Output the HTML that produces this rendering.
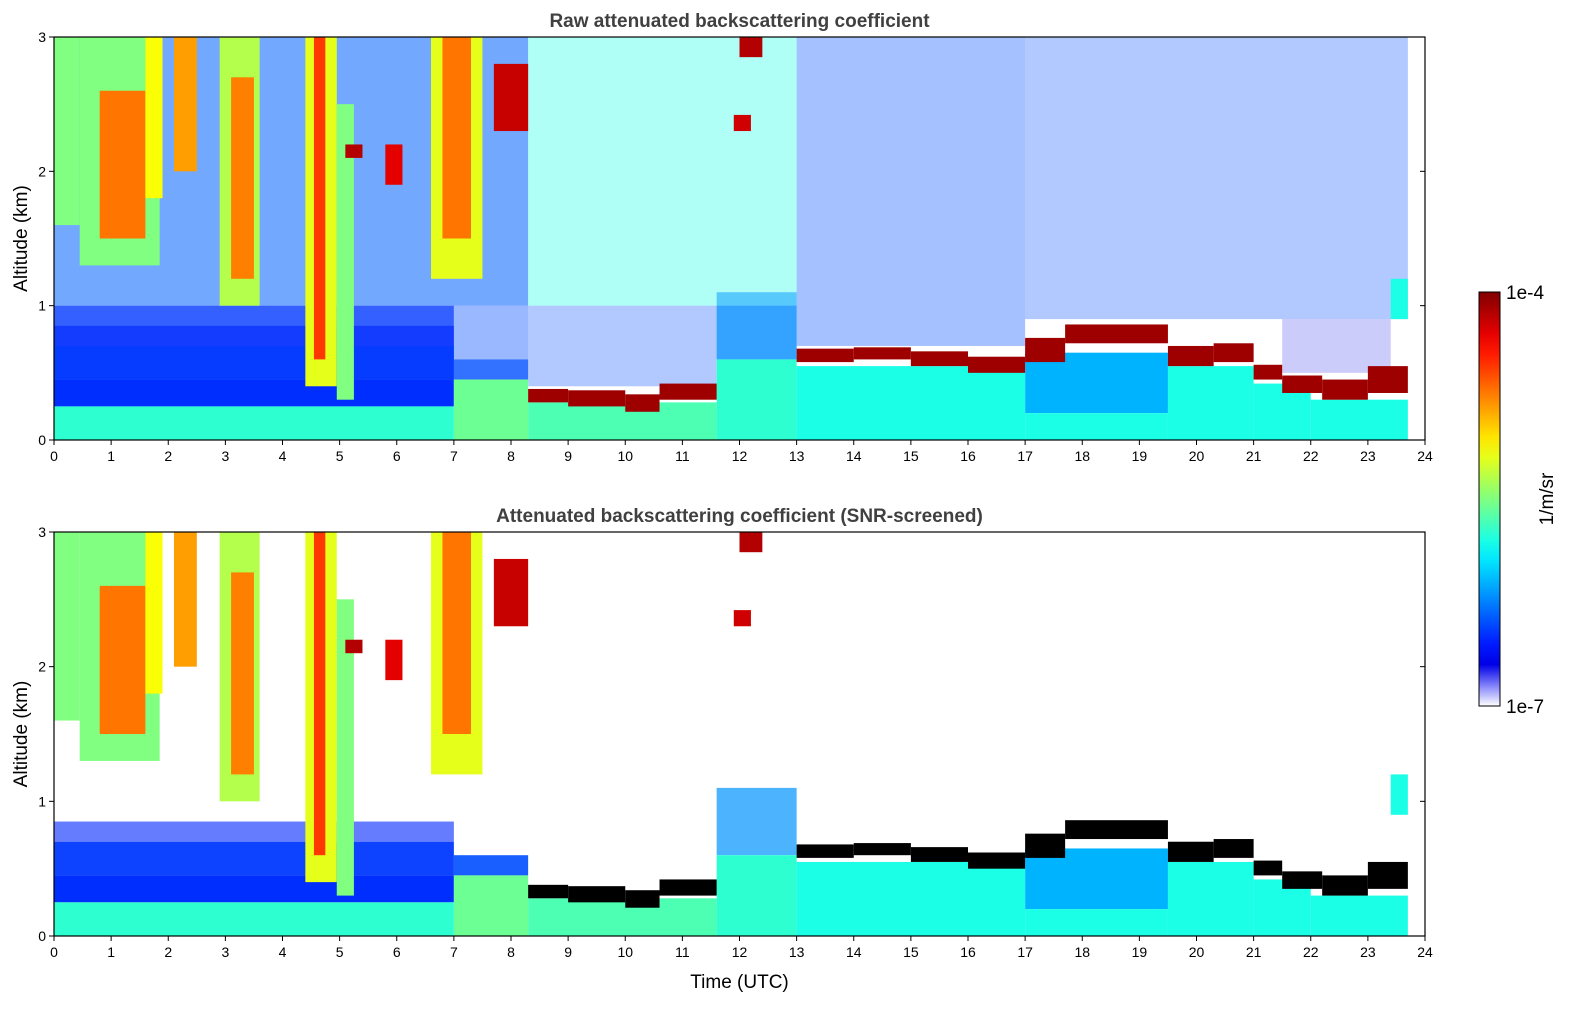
<!DOCTYPE html>
<html><head><meta charset="utf-8">
<style>
html,body{margin:0;padding:0;background:#fff;width:1595px;height:1020px;overflow:hidden;}
svg{display:block;position:absolute;left:0;top:0;font-family:"Liberation Sans","DejaVu Sans",sans-serif;}
</style></head>
<body>
<svg id="chart" width="1595" height="1020" viewBox="0 0 1595 1020" xmlns="http://www.w3.org/2000/svg">
<defs><linearGradient id="cbgrad" x1="0" y1="1" x2="0" y2="0"></linearGradient></defs>
</svg>
<script>
// ---- data (time h, altitude km, normalized log backscatter 0=1e-7 .. 1=1e-4; -1 = black/saturated) ----
const xTicks = [0,1,2,3,4,5,6,7,8,9,10,11,12,13,14,15,16,17,18,19,20,21,22,23,24];
const yTicks = [0,1,2,3];
const cbLabels = ["1e-4","1e-7"];
// noisy background (raw panel only): [t0,t1,z0,z1,value,alpha]
const rawBackground = [
 [0,8.3,1,3,0.22,0.55],[0,7,0.45,1,0.18,0.8],[7,8.3,0.6,1,0.2,0.4],[8.3,13,1,3,0.4,0.35],[8.3,11.6,0.4,1,0.2,0.3],
 [11.6,13,0.6,1,0.25,0.6],[13,17,0.7,3,0.2,0.35],[17,23.7,0.9,3,0.2,0.3],[21.5,23.4,0.5,0.9,0.1,0.2]
];
// aerosol layer: [t0,t1,z0,z1,value,alphaRaw,alphaScreened]
const aerosolLayer = [
 [0,7,0.25,0.45,0.17,1,1],[0,7,0.45,0.7,0.18,0.9,0.95],[0,7,0.7,0.85,0.16,0.6,0.6],
 [7,8.3,0.45,0.6,0.2,0.8,0.9],[11.6,13,0.6,1.1,0.27,0.5,0.7],[17,19.5,0.2,0.65,0.3,1,1]
];
// surface layer: [t0,t1,z0,z1,value]
const surfaceLayer = [
 [0,7,0,0.25,0.42],[7,8.3,0,0.45,0.48],[8.3,11.6,0,0.28,0.45],[11.6,13,0,0.6,0.42],
 [13,17,0,0.55,0.4],[17,19.5,0,0.2,0.4],[19.5,21,0,0.55,0.4],[21,22,0,0.42,0.4],[22,23.7,0,0.3,0.4]
];
// boundary-layer cloud: [t0,t1,z0,z1]
const lowCloud = [
 [8.3,9,0.28,0.38],[9,10,0.25,0.37],[10,10.6,0.21,0.34],[10.6,11.6,0.3,0.42],[13,14,0.58,0.68],
 [14,15,0.6,0.69],[15,16,0.55,0.66],[16,17,0.5,0.62],[17,17.7,0.58,0.76],[17.7,19.5,0.72,0.86],
 [19.5,20.3,0.55,0.7],[20.3,21,0.58,0.72],[21,21.5,0.45,0.56],[21.5,22.2,0.35,0.48],
 [22.2,23,0.3,0.45],[23,23.7,0.35,0.55]
];
// upper clouds: [t0,t1,z0,z1,value]
const upperCloud = [
 [0,0.45,1.6,3,0.5],[0.45,1.85,1.3,3,0.5],[0.8,1.6,1.5,2.6,0.76],[1.6,1.9,1.8,3,0.62],
 [2.1,2.5,2,3,0.72],[2.9,3.6,1,3,0.55],[3.1,3.5,1.2,2.7,0.75],[4.4,4.95,0.4,3,0.6],
 [4.55,4.75,0.6,3,0.82],[4.95,5.25,0.3,2.5,0.5],[5.8,6.1,1.9,2.2,0.9],[5.1,5.4,2.1,2.2,0.95],
 [6.6,7.5,1.2,3,0.6],[6.8,7.3,1.5,3,0.76],[7.7,8.3,2.3,2.8,0.93],[12,12.4,2.85,3,0.95],
 [11.9,12.2,2.3,2.42,0.92],[23.4,23.7,0.9,1.2,0.4]
];
const panels = [
 {name:"raw", title:"Raw attenuated backscattering coefficient", top:37, bottom:440},
 {name:"screened", title:"Attenuated backscattering coefficient (SNR-screened)", top:532, bottom:936}
];
// ---- rendering ----
const NS="http://www.w3.org/2000/svg";
const svg=document.getElementById('chart');
const X0=54,X1=1425;
function jet(v){
 if(v<0) return "#000";
 const c=t=>Math.max(0,Math.min(1,t));
 let r=c(1.5-Math.abs(4*v-3)),g=c(1.5-Math.abs(4*v-2)),b=c(1.5-Math.abs(4*v-1));
 if(v<0.1){const f=v/0.1;r=1-f*(1-r);g=1-f*(1-g);b=1-f*(1-b)*0.1;}
 return `rgb(${Math.round(r*255)},${Math.round(g*255)},${Math.round(b*255)})`;
}
function el(tag,attrs,parent){const e=document.createElementNS(NS,tag);for(const k in attrs)e.setAttribute(k,attrs[k]);(parent||svg).appendChild(e);return e;}
function sx(t){return X0+(t/24)*(X1-X0);}
panels.forEach((p,pi)=>{
 const sy=z=>p.bottom-(z/3)*(p.bottom-p.top);
 const g=el('g',{});
 
 
 const rect=(d,v,a,nm)=>{const r=el('rect',{x:sx(d[0]),y:sy(d[3]),width:sx(d[1])-sx(d[0]),height:sy(d[2])-sy(d[3]),fill:jet(v),'fill-opacity':a},g);
  
  };
 if(pi===0) rawBackground.forEach(d=>rect(d,d[4],d[5],'noise-region'));
 aerosolLayer.forEach(d=>rect(d,d[4],pi===0?d[5]:d[6],'aerosol-layer'));
 surfaceLayer.forEach(d=>rect(d,d[4],1,'surface-layer'));
 upperCloud.forEach(d=>rect(d,d[4],1,'upper-cloud'));
 lowCloud.forEach(d=>rect(d,pi===0?0.97:-1,1,'low-cloud'));
 const fr=el('rect',{x:X0,y:p.top,width:X1-X0,height:p.bottom-p.top,fill:'none',stroke:'#000','stroke-width':1.2});
 
 
 const t=el('text',{x:(X0+X1)/2,y:p.top-10,'text-anchor':'middle','font-size':19,'font-weight':'bold',fill:'#404040'});
 t.textContent=p.title;
 
 
 xTicks.forEach(v=>{
  el('line',{x1:sx(v),x2:sx(v),y1:p.bottom,y2:p.bottom+5,stroke:'#000'});
  const l=el('text',{x:sx(v),y:p.bottom+21,'text-anchor':'middle','font-size':14});
  l.textContent=v;
  
  
 });
 yTicks.forEach(v=>{
  el('line',{x1:X0-5,x2:X0,y1:sy(v),y2:sy(v),stroke:'#000'});
  el('line',{x1:X1,x2:X1-5,y1:sy(v),y2:sy(v),stroke:'#000'});
  const l=el('text',{x:X0-8,y:sy(v)+5,'text-anchor':'end','font-size':14});
  l.textContent=v;
  
  
 });
 const yl=el('text',{x:0,y:0,transform:`translate(27,${(p.top+p.bottom)/2}) rotate(-90)`,'text-anchor':'middle','font-size':19});
 yl.textContent='Altitude (km)';
 
 
});
const xl=el('text',{x:(X0+X1)/2,y:988,'text-anchor':'middle','font-size':19});
xl.textContent='Time (UTC)';


// colorbar
const grad=document.getElementById('cbgrad');
for(let i=0;i<=20;i++){el('stop',{offset:i/20,'stop-color':jet(i/20)},grad);}
const cb=el('rect',{x:1479,y:292,width:21,height:414,fill:'url(#cbgrad)',stroke:'#000'});


cbLabels.forEach((s,i)=>{
 const l=el('text',{x:1506,y:(i===0?292:706)+7,'font-size':19});
 l.textContent=s;
 
 
});
const cl=el('text',{x:0,y:0,transform:'translate(1553,499) rotate(-90)','text-anchor':'middle','font-size':19});
cl.textContent='1/m/sr';


</script>
</body></html>
